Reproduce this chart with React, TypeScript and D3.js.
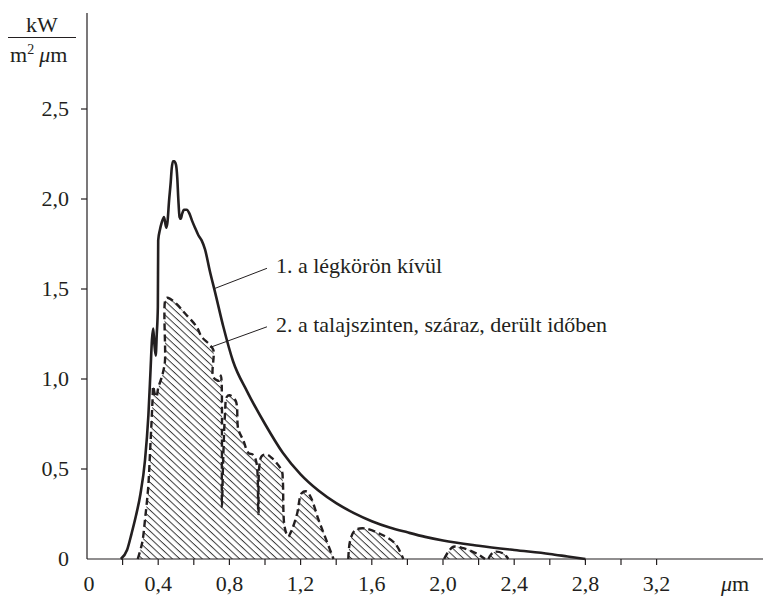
import React from "react";
import * as d3 from "d3";

const W = 763;
const H = 596;

// Curve 1: extraterrestrial (outside atmosphere) [µm, kW/(m² µm)]
const outsideX = [0.19,0.225,0.25,0.275,0.30,0.326,0.345,0.357,0.365,0.372,0.378,0.386,0.392,0.398,0.40,0.41,0.42,0.433,0.445,0.452,0.461,0.47,0.476,0.483,0.49,0.50,0.507,0.513,0.52,0.527,0.535,0.545,0.56,0.575,0.59,0.607,0.625,0.644,0.663,0.69,0.72,0.766,0.82,0.9,1.0,1.1,1.2,1.3,1.4,1.5,1.6,1.7,1.8,1.9,2.0,2.2,2.4,2.6,2.7,2.8];
const outsideY = [0,0.05,0.14,0.24,0.36,0.55,0.80,1.05,1.22,1.28,1.2,1.13,1.25,1.40,1.77,1.83,1.87,1.90,1.84,1.87,1.99,2.09,2.17,2.21,2.21,2.19,2.12,2.0,1.90,1.89,1.92,1.94,1.94,1.92,1.88,1.84,1.80,1.77,1.72,1.60,1.48,1.29,1.10,0.93,0.75,0.59,0.47,0.38,0.31,0.255,0.21,0.175,0.148,0.123,0.103,0.074,0.05,0.028,0.014,0];

// Curve 2: ground level, dry clear weather — separate blocks
const groundBlocksX = [
  [0.285,0.31,0.326,0.344,0.354,0.363,0.368,0.372,0.38,0.39,0.40,0.42,0.43,0.438,0.438,0.447,0.457,0.50,0.55,0.616,0.644,0.69,0.71,0.71,0.745,0.752,0.756,0.758,0.765,0.775,0.785,0.80,0.835,0.85,0.878,0.906,0.934,0.953,0.963,0.98,1.01,1.04,1.094,1.10,1.11,1.13,1.15,1.18,1.206,1.234,1.26,1.30,1.337,1.385],
  [1.468,1.478,1.506,1.56,1.646,1.73,1.777],
  [2.006,2.03,2.058,2.115,2.19,2.236],
  [2.255,2.27,2.29,2.34,2.367],
];
const groundBlocksY = [
  [0,0.09,0.22,0.40,0.59,0.77,0.88,0.96,0.92,0.90,0.95,1.01,1.05,1.10,1.43,1.45,1.45,1.42,1.365,1.29,1.235,1.19,1.16,1.01,0.99,1.02,0.99,0.29,0.55,0.80,0.90,0.91,0.88,0.72,0.66,0.59,0.578,0.53,0.25,0.57,0.58,0.56,0.49,0.44,0.18,0.125,0.16,0.25,0.365,0.375,0.337,0.22,0.124,0],
  [0,0.1,0.16,0.17,0.14,0.087,0],
  [0,0.04,0.068,0.06,0.03,0],
  [0,0.025,0.04,0.03,0],
];

const xTicks = [0.2,0.4,0.6,0.8,1.0,1.2,1.4,1.6,1.8,2.0,2.2,2.4,2.6,2.8,3.0,3.2];
const xLabels = ["0","0,4","0,8","1,2","1,6","2,0","2,4","2,8","3,2"];
const xLabelVals = [0,0.4,0.8,1.2,1.6,2.0,2.4,2.8,3.2];
const yTicks = [0.5,1.0,1.5,2.0,2.5];
const yLabels = ["0","0,5","1,0","1,5","2,0","2,5"];
const yLabelVals = [0,0.5,1.0,1.5,2.0,2.5];

const seriesLabels = ["1. a légkörön kívül", "2. a talajszinten, száraz, derült időben"];
// leader anchors
const leaderStartX = [0.71, 0.69];
const leaderStartY = [1.50, 1.175];
const leaderEndX = [1.011, 1.011];
const leaderEndY = [1.615, 1.29];

const INK = "#231f20";

export default function App() {
  const x = d3.scaleLinear().domain([0, 3.2]).range([87, 87 + 3.2 * 178]);
  const y = d3.scaleLinear().domain([0, 2.5]).range([559, 109]);

  const outside = outsideX.map((v, i) => [v, outsideY[i]] as [number, number]);
  const line = d3
    .line<[number, number]>()
    .x((d) => x(d[0]))
    .y((d) => y(d[1]))
    .curve(d3.curveMonotoneX);
  const lineDash = d3
    .line<[number, number]>()
    .x((d) => x(d[0]))
    .y((d) => y(d[1]))
    .curve(d3.curveCatmullRom.alpha(0.5));
  const area = d3
    .area<[number, number]>()
    .x((d) => x(d[0]))
    .y0(y(0))
    .y1((d) => y(d[1]))
    .curve(d3.curveCatmullRom.alpha(0.5));

  const blocks = groundBlocksX.map((xs, b) =>
    xs.map((v, i) => [v, groundBlocksY[b][i]] as [number, number])
  );

  const txt = { fontFamily: "Liberation Serif", fontSize: 22 };

  return (
    <svg
      width={W}
      height={H}
      style={{ position: "absolute", left: 0, top: 0 }}
    >
      <rect x={0} y={0} width={W} height={H} fill="#fff" />
      <defs>
        <pattern
          id="hatch"
          patternUnits="userSpaceOnUse"
          width={10}
          height={5.1}
          patternTransform="rotate(43)"
        >
          <line x1={0} y1={0.5} x2={10} y2={0.5} stroke="#3a3a3a" strokeWidth={1} />
        </pattern>
      </defs>

      {/* hatched area under ground-level curve */}
      {blocks.map((b, i) => (
        <path key={"a" + i} d={area(b) || ""} fill="url(#hatch)" stroke="none" />
      ))}

      {/* axes */}
      <line x1={87} y1={559} x2={763} y2={559} stroke={INK} strokeWidth={1.2} />
      <line x1={87} y1={559} x2={87} y2={13} stroke={INK} strokeWidth={1.2} />
      {xTicks.map((t) => (
        <line key={"xt" + t} x1={x(t)} x2={x(t)} y1={559} y2={565} stroke={INK} strokeWidth={1.2} />
      ))}
      {yTicks.map((t) => (
        <line key={"yt" + t} x1={81} x2={87} y1={y(t)} y2={y(t)} stroke={INK} strokeWidth={1.2} />
      ))}
      <g fontFamily="Liberation Serif" fill={INK}>
        {xLabelVals.map((v, i) => (
          <text key={"xl" + i} x={x(v) + (v === 0 ? 2 : 0)} y={591} textAnchor="middle" style={txt}>
            {xLabels[i]}
          </text>
        ))}
        {yLabelVals.map((v, i) => (
          <text key={"yl" + i} x={69} y={y(v) + 7} textAnchor="end" style={txt}>
            {yLabels[i]}
          </text>
        ))}
        <text x={735} y={591} textAnchor="middle" style={txt}>
          <tspan fontStyle="italic">μ</tspan>m
        </text>

        {/* unit label */}
        <text x={42} y={32} textAnchor="middle" style={txt}>kW</text>
        <text x={10} y={62} style={txt}>
          m<tspan fontSize={14} dy={-8}>2</tspan>
          <tspan dy={8} dx={5} fontStyle="italic">μ</tspan>m
        </text>
      </g>
      <line x1={8} x2={76} y1={37.5} y2={37.5} stroke={INK} strokeWidth={1.2} />

      {/* ground-level dashed outline */}
      {blocks.map((b, i) => (
        <path
          key={"g" + i}
          d={lineDash(b) || ""}
          fill="none"
          stroke={INK}
          strokeWidth={2.4}
          strokeDasharray="7,4"
        />
      ))}

      {/* outside atmosphere solid curve */}
      <path d={line(outside) || ""} fill="none" stroke={INK} strokeWidth={2.6} strokeLinejoin="round" />

      {/* leaders and labels */}
      {seriesLabels.map((s, i) => (
        <g key={"lab" + i}>
          <line
            x1={x(leaderStartX[i])}
            y1={y(leaderStartY[i])}
            x2={x(leaderEndX[i])}
            y2={y(leaderEndY[i])}
            stroke={INK}
            strokeWidth={1}
          />
          <text x={x(leaderEndX[i]) + 9} y={y(leaderEndY[i]) + 5} style={txt} fill={INK}>
            {s}
          </text>
        </g>
      ))}
    </svg>
  );
}
